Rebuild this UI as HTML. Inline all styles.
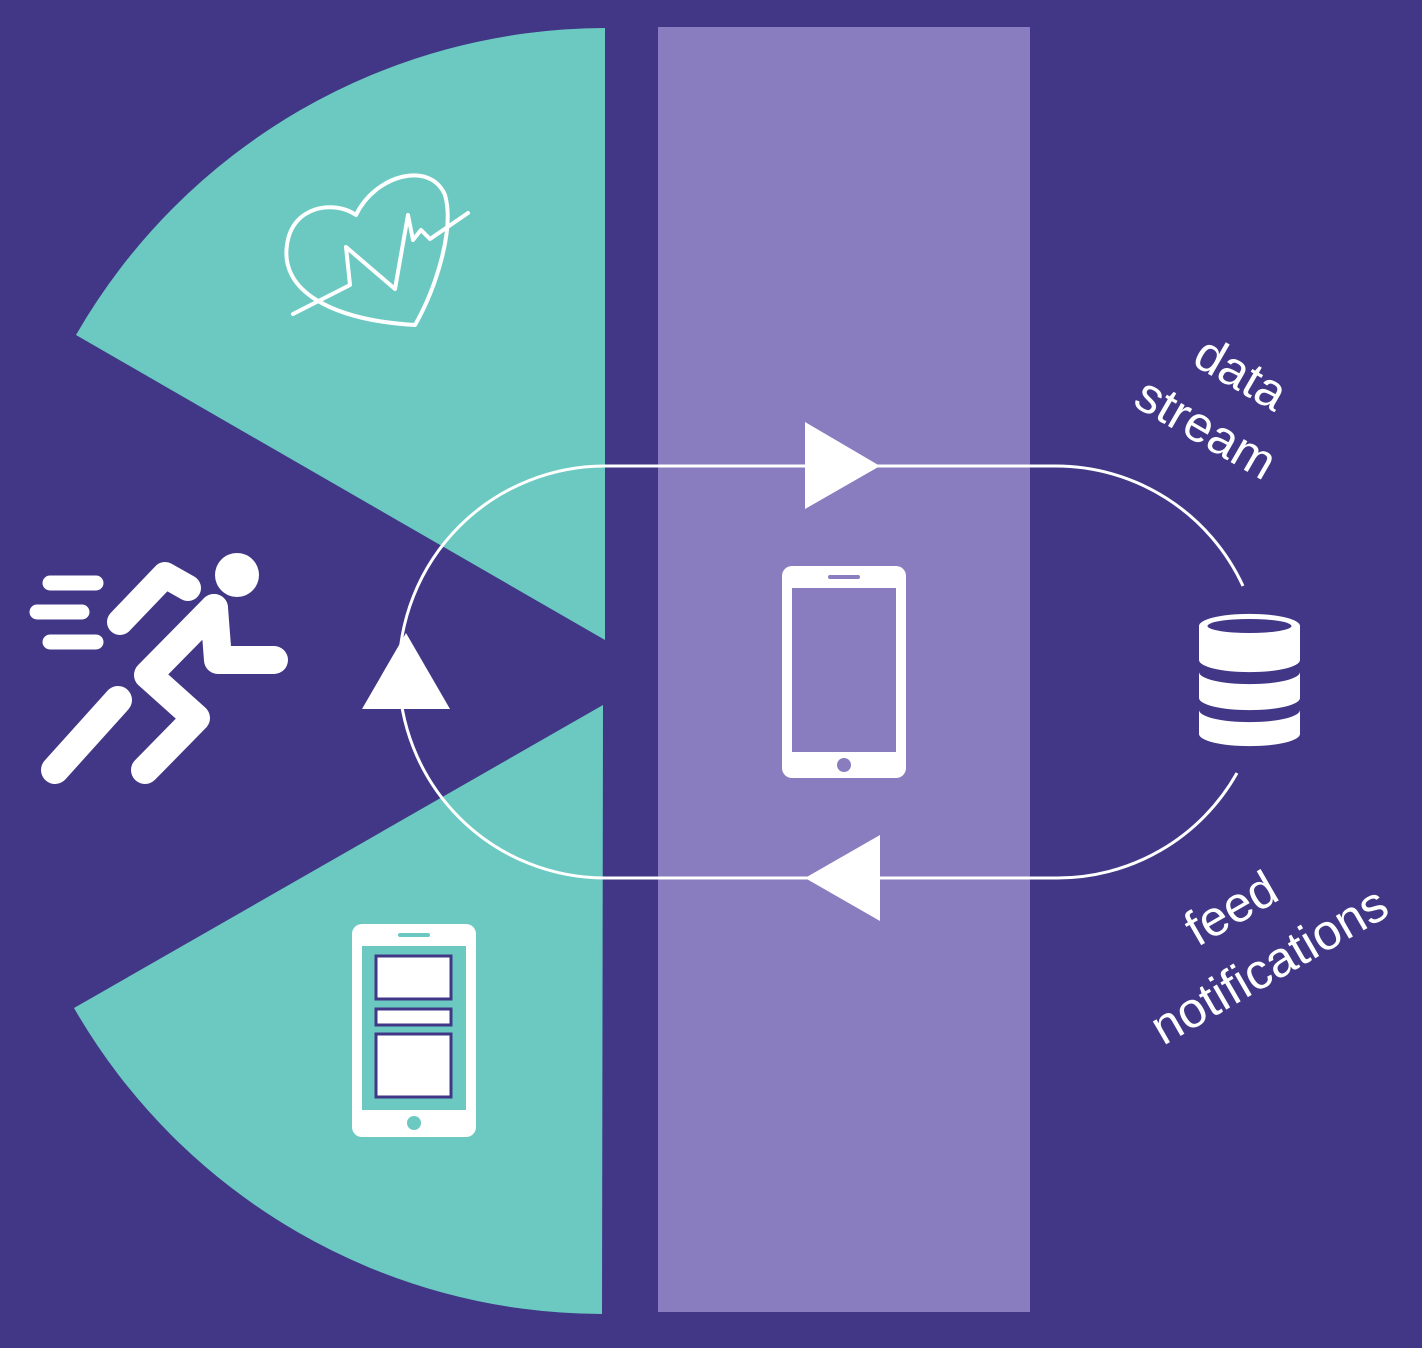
<!DOCTYPE html>
<html><head><meta charset="utf-8"><style>
html,body{margin:0;padding:0;background:#413786;}
svg{display:block}
text{font-family:"Liberation Sans",sans-serif;font-weight:300;fill:#fff;}
</style></head><body>
<svg width="1422" height="1348" viewBox="0 0 1422 1348" xmlns="http://www.w3.org/2000/svg">
<rect width="1422" height="1348" fill="#413786"/>
<rect x="658" y="27" width="372" height="1285" fill="#8A7DBF"/>
<path d="M605 640 L605 28 A612 612 0 0 0 76 335 Z" fill="#6BC9C1"/>
<path d="M603 705 L74 1008 A610 610 0 0 0 602 1314 Z" fill="#6BC9C1"/>
<g fill="none" stroke="#fff" stroke-width="3">
<path d="M1243 586 A206 206 0 0 0 1055 466 L605 466 A206 206 0 0 0 605 878 L1055 878 A206 206 0 0 0 1237 773"/>
</g>
<polygon points="805,422 880,466 805,509" fill="#fff"/>
<polygon points="880,835 805,878 880,921" fill="#fff"/>
<polygon points="406,633 362,709 450,709" fill="#fff"/>
<g fill="none" stroke="#fff" stroke-width="4" stroke-linejoin="round" stroke-linecap="round">
<path d="M415 325 C330 320 280 290 287 245 C292 205 335 200 356 215 C375 175 430 160 445 195 C455 230 435 290 415 325 Z"/>
<polyline points="293,314 350,285 346,247 395,289 408,215 413,240 421,230 430,239 468,213"/>
</g>
<g stroke="#fff" stroke-linecap="round" stroke-linejoin="round" fill="none">
<line x1="50" y1="583" x2="96" y2="583" stroke-width="15"/>
<line x1="37" y1="612" x2="82" y2="612" stroke-width="15"/>
<line x1="50" y1="642" x2="96" y2="642" stroke-width="15"/>
<polyline points="120,622 165,575 188,588" stroke-width="26"/>
<polyline points="214,608 148,675 196,718 145,770" stroke-width="28"/>
<line x1="118" y1="700" x2="55" y2="770" stroke-width="28"/>
<polyline points="214,608 218,660 274,660" stroke-width="28"/>
</g>
<circle cx="237" cy="575" r="22" fill="#fff"/>
<rect x="782" y="566" width="124" height="212" rx="10" fill="#fff"/>
<rect x="792" y="588" width="104" height="164" fill="#8A7DBF"/>
<rect x="828" y="575" width="32" height="4" rx="2" fill="#8A7DBF"/>
<circle cx="844" cy="765" r="7" fill="#8A7DBF"/>
<rect x="352" y="924" width="124" height="213" rx="10" fill="#fff"/>
<rect x="362" y="946" width="104" height="164" fill="#6BC9C1"/>
<rect x="398" y="933" width="32" height="4" rx="2" fill="#6BC9C1"/>
<circle cx="414" cy="1123" r="7" fill="#6BC9C1"/>
<g fill="#fff" stroke="#413786" stroke-width="3">
<rect x="376" y="956" width="75" height="43"/>
<rect x="376" y="1009" width="75" height="16"/>
<rect x="376" y="1034" width="75" height="63"/>
</g>
<g fill="#fff">
<path d="M1199 626 A50 12 0 0 1 1300 626 L1300 660 A50 12 0 0 1 1199 660 Z"/>
<path d="M1199 672 A50 12 0 0 0 1300 672 L1300 698 A50 12 0 0 1 1199 698 Z"/>
<path d="M1199 710 A50 12 0 0 0 1300 710 L1300 734 A50 12 0 0 1 1199 734 Z"/>
</g>
<ellipse cx="1249.5" cy="626" rx="42" ry="7" fill="#413786"/>
<text x="1240" y="390" font-size="50" text-anchor="middle" transform="rotate(30 1240 375)">data</text>
<text x="1205" y="445" font-size="50" text-anchor="middle" transform="rotate(30 1205 430)">stream</text>
<text x="1232" y="925" font-size="50" text-anchor="middle" transform="rotate(-30 1232 910)">feed</text>
<text x="1270" y="982" font-size="50" text-anchor="middle" transform="rotate(-30 1270 967)">notifications</text>
</svg>
</body></html>
